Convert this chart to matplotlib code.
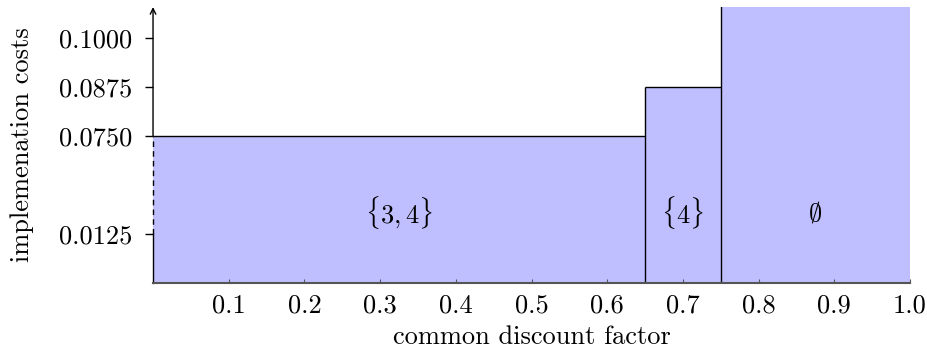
import numpy as np
import matplotlib.pyplot as plt

plt.rcParams['font.family'] = ['cmr10', 'DejaVu Serif']
plt.rcParams['mathtext.fontset'] = 'cm'
plt.rcParams['axes.formatter.use_mathtext'] = True

# Optimal implementation sets over the common discount factor
boundaries = [0.0, 0.65, 0.75, 1.0]
costs = [0.075, 0.0875, 0.125]   # empty set: cost runs off the top of the chart
set_labels = [r'$\{3,4\}$', r'$\{4\}$', r'$\emptyset$']

y_ticks = [0.0125, 0.0750, 0.0875, 0.1000]
y_tick_labels = ['0.0125', '0.0750', '0.0875', '0.1000']
x_ticks = [0.1, 0.2, 0.3, 0.4, 0.5, 0.6, 0.7, 0.8, 0.9, 1.0]

# Broken y axis: the gap 0.0125 -> 0.075 is squeezed into two steps of 0.0125
break_lo, break_hi = 0.0125, 0.075
knots_v = [-1.0, 0.0, break_lo, break_hi, 1.0]
knots_u = [-80.0, 0.0, 1.0, 3.0, 3.0 + (1.0 - break_hi) / 0.0125]

def forward(v):
    return np.interp(v, knots_v, knots_u)

def inverse(u):
    return np.interp(u, knots_u, knots_v)

fs = 19

fig = plt.figure(figsize=(9.28, 3.53), dpi=100)
ax = fig.add_axes([0.1649, 0.198, 0.8157, 0.782])
ax.set_yscale('function', functions=(forward, inverse))

ymax = 0.1079
ax.set_xlim(0, 1.0)
ax.set_ylim(0, ymax)

fill_color = '#bfbfff'
step_y = costs + [costs[-1]]
ax.fill_between(boundaries, step_y, step='post', color=fill_color, lw=0, zorder=1)
# tops of the bars
ax.hlines(costs, boundaries[:-1], boundaries[1:], color='black', lw=1.0, zorder=2)
# walls between neighbouring bars
walls = [max(costs[i - 1], costs[i]) for i in range(1, len(costs))]
ax.vlines(boundaries[1:-1], 0, walls, color='black', lw=1.0, zorder=2)

for i, lab in enumerate(set_labels):
    xc = (boundaries[i] + boundaries[i + 1]) / 2
    ax.text(xc, 0.255, lab, transform=ax.get_xaxis_transform(),
            ha='center', va='center', fontsize=fs, zorder=3)

# Axes styling
for side in ['top', 'right', 'left']:
    ax.spines[side].set_visible(False)
ax.spines['bottom'].set_color('#555555')
ax.spines['bottom'].set_linewidth(1.5)
ax.spines['bottom'].set_zorder(4)

# Left axis: solid, dashed across the break, solid again with arrow
ax.plot([0, 0], [0, break_lo], color='black', lw=1.0, clip_on=False, zorder=4)
ax.plot([0, 0], [break_lo, break_hi], color='black', lw=1.0, ls=(0, (4, 3)),
        clip_on=False, zorder=4)
ax.annotate('', xy=(0, ymax), xytext=(0, break_hi),
            arrowprops=dict(arrowstyle='->', color='black', lw=1.0,
                            shrinkA=0, shrinkB=0), zorder=4)

ax.set_xticks(x_ticks)
ax.set_xticklabels([f'{t:.1f}' for t in x_ticks])
ax.set_yticks(y_ticks)
ax.set_yticklabels(y_tick_labels)
ax.minorticks_off()
ax.tick_params(axis='x', direction='in', length=3, color='#555555',
               labelsize=fs, pad=8)
ax.tick_params(axis='y', direction='out', length=6, width=1.0,
               labelsize=fs, pad=9)

ax.set_xlabel('common discount factor', fontsize=fs, labelpad=5)
ax.set_ylabel('implemenation costs', fontsize=fs, labelpad=18)

fig.savefig('out.png', dpi=100)
